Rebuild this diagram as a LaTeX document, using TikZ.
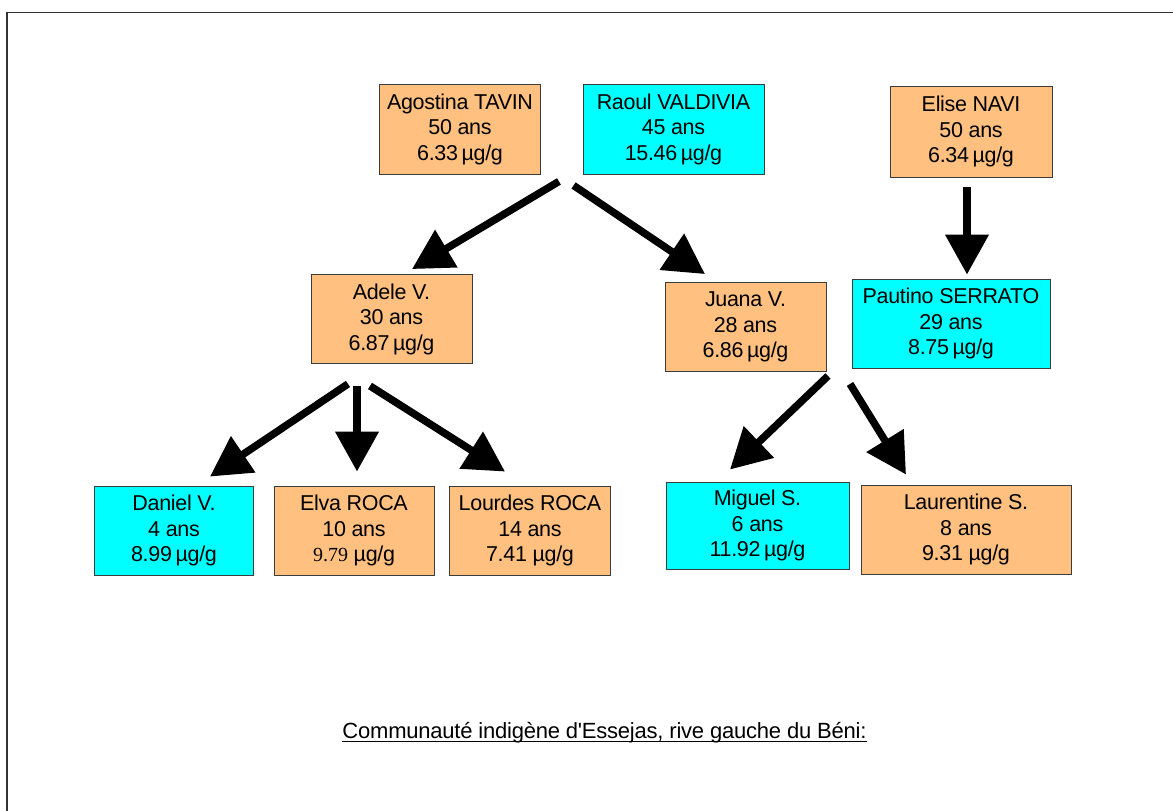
\documentclass[tikz,border=0pt]{standalone}
\usepackage{fontspec}
\setmainfont{Liberation Serif}
\setsansfont{Liberation Sans}
\newfontfamily\boxfont{Liberation Sans}[LetterSpace=-1.5]
\newfontfamily\capfont{Liberation Sans}[LetterSpace=-1]
\usetikzlibrary{arrows.meta}
\definecolor{boxorange}{RGB}{255,192,128}
\definecolor{boxcyan}{RGB}{0,255,255}
\definecolor{boxline}{RGB}{60,60,60}
\tikzset{
  person/.style={draw=boxline, line width=0.9pt, inner sep=0pt, align=center,
    font=\boxfont\fontsize{21.5}{25.5}\selectfont},
  femme/.style={person, fill=boxorange},
  homme/.style={person, fill=boxcyan},
  fleche/.style={line width=7.5pt, -{Triangle[length=40pt,width=42pt]}},
}
\begin{document}
\begin{tikzpicture}[x=1pt,y=-1pt]
\useasboundingbox (0,0) rectangle (1173,811);
\fill[white] (0,0) rectangle (1173,811);
% frame
\draw[line width=1.5pt, color=black!80] (7,811) -- (7,12.5) -- (1173,12.5);
% nodes
\node[femme, minimum width=161pt, minimum height=90pt] (ago) at (460,129) {Agostina TAVIN\\50 ans\\6.33\,µg/g};
\node[homme, minimum width=181pt, minimum height=90pt] (raoul) at (673.5,129) {Raoul VALDIVIA\\45 ans\\15.46\,µg/g};
\node[femme, minimum width=162pt, minimum height=91pt] (elise) at (971,131.5) {Elise NAVI\\50 ans\\6.34\,µg/g};
\node[femme, minimum width=161pt, minimum height=89pt] (adele) at (391.5,319) {Adele V.\\30 ans\\6.87\,µg/g};
\node[femme, minimum width=161pt, minimum height=89pt] (juana) at (745.5,327) {Juana V.\\28 ans\\6.86\,µg/g};
\node[homme, minimum width=198pt, minimum height=89pt] (pautino) at (951,323.5) {Pautino SERRATO\\29 ans\\8.75\,µg/g};
\node[homme, minimum width=159pt, minimum height=89pt] (daniel) at (174,530.5) {Daniel V.\\4 ans\\8.99\,µg/g};
\node[femme, minimum width=160pt, minimum height=89pt] (elva) at (354,530.5) {Elva ROCA\\10 ans\\{\rmfamily\fontsize{20}{25.5}\selectfont 9.79} µg/g};
\node[femme, minimum width=161pt, minimum height=89pt] (lourdes) at (530,530.5) {Lourdes ROCA\\14 ans\\7.41 µg/g};
\node[homme, minimum width=183pt, minimum height=87pt] (miguel) at (757.5,525.5) {Miguel S.\\6 ans\\11.92\,µg/g};
\node[femme, minimum width=210pt, minimum height=89pt] (laurentine) at (966,529.5) {Laurentine S.\\8 ans\\9.31 µg/g};
% arrows
\draw[fleche] ([shift={(18,7)}]ago.south east) -- ([shift={(20.5,-5)}]adele.north);
\draw[fleche] ([shift={(-9,11)}]raoul.south west) -- ([shift={(-40.5,-8)}]juana.north);
\draw[fleche] ([shift={(-4,10)}]elise.south) -- ([shift={(16,-4)}]pautino.north);
\draw[fleche] ([shift={(-43.5,20)}]adele.south) -- ([shift={(36,-9)}]daniel.north);
\draw[fleche] ([shift={(-34.5,22)}]adele.south) -- ([shift={(3,-14)}]elva.north);
\draw[fleche] ([shift={(-21.5,22)}]adele.south) -- ([shift={(-25,-14)}]lourdes.north);
\draw[fleche] ([shift={(82.5,4)}]juana.south) -- ([shift={(-27.5,-12)}]miguel.north);
\draw[fleche] ([shift={(104.5,12)}]juana.south) -- ([shift={(-60,-10)}]laurentine.north);
% caption
\node[anchor=base, inner sep=0pt, font=\capfont\fontsize{22}{26}\selectfont] (caption) at (604.5,738) {Communauté indigène d'Essejas, rive gauche du Béni:};
\draw[line width=1.8pt] ([yshift=-3.5pt]caption.base west) -- ([yshift=-3.5pt]caption.base east);
\end{tikzpicture}
\end{document}
